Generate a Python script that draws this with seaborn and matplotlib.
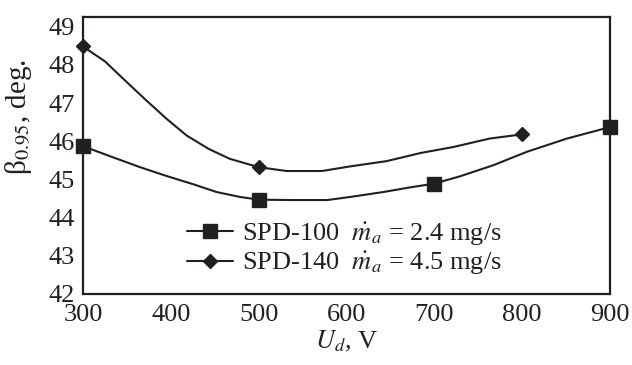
import matplotlib
matplotlib.use("Agg")
import matplotlib.pyplot as plt
from matplotlib.lines import Line2D
import seaborn as sns
import pandas as pd

# ---- data ----
# measured points (markers)
spd100_x = [300, 500, 700, 900]
spd100_y = [45.87, 44.47, 44.89, 46.37]
spd140_x = [300, 500, 800]
spd140_y = [48.48, 45.32, 46.18]

# traced smooth curves
spd100_cx = [300, 334, 365, 395, 426, 452, 479, 500, 536, 578, 604, 642, 672, 700, 729, 767, 805, 851, 900]
spd100_cy = [45.87, 45.58, 45.32, 45.09, 44.87, 44.67, 44.54, 44.47, 44.46, 44.46, 44.54, 44.67, 44.79, 44.89, 45.08, 45.37, 45.72, 46.07, 46.37]
spd140_cx = [300, 325, 346, 372, 395, 418, 443, 467, 500, 532, 572, 604, 646, 684, 722, 763, 800]
spd140_cy = [48.48, 48.09, 47.63, 47.07, 46.59, 46.15, 45.80, 45.54, 45.32, 45.22, 45.22, 45.34, 45.48, 45.69, 45.85, 46.07, 46.18]

labels = [r"SPD-100  $\dot{m}_a$ = 2.4 mg/s", r"SPD-140  $\dot{m}_a$ = 4.5 mg/s"]
xticks = [300, 400, 500, 600, 700, 800, 900]
yticks = [42, 43, 44, 45, 46, 47, 48, 49]

sns.set_theme(style="white")
plt.rcParams["font.family"] = ["Liberation Serif", "DejaVu Serif"]
plt.rcParams["mathtext.fontset"] = "stix"

FS = 19
C = "#231f20"

fig = plt.figure(figsize=(6.32, 3.65), dpi=100)
ax = fig.add_axes([83 / 632, 1 - 294 / 365, (610 - 83) / 632, (294 - 16.7) / 365])

c100 = pd.DataFrame({"x": spd100_cx, "y": spd100_cy})
c140 = pd.DataFrame({"x": spd140_cx, "y": spd140_cy})
sns.lineplot(data=c100, x="x", y="y", ax=ax, color=C, lw=1.5, sort=False, estimator=None)
sns.lineplot(data=c140, x="x", y="y", ax=ax, color=C, lw=1.5, sort=False, estimator=None)

ax.plot(spd100_x, spd100_y, ls="none", marker="s", ms=9.5, color=C, clip_on=False, zorder=5)
ax.plot(spd140_x, spd140_y, ls="none", marker="D", ms=7.2, color=C, clip_on=False, zorder=5)

ax.set_xlim(300, 900)
ax.set_ylim(42, 49.26)
ax.set_xticks(xticks)
ax.set_yticks(yticks)
ax.set_xticklabels([str(v) for v in xticks])
ax.set_yticklabels([str(v) for v in yticks])
ax.tick_params(direction="in", length=6.5, width=1.2, color=C, labelsize=FS,
               labelcolor=C, top=False, right=False)
ax.tick_params(axis="x", pad=7)
ax.tick_params(axis="y", pad=6)
ax.yaxis.get_major_ticks()[-1].tick1line.set_visible(False)
for s in ax.spines.values():
    s.set_linewidth(1.6)
    s.set_color(C)
    s.set_visible(True)

ax.set_xlabel(r"$U_d$, V", fontsize=FS, color=C, labelpad=2)
ax.set_ylabel(r"β$_{0.95}$, deg.", fontsize=21, color=C)
ax.yaxis.set_label_coords(-0.093, 0.64)

handles = [
    Line2D([0], [0], color=C, lw=1.5, marker="s", ms=9.5),
    Line2D([0], [0], color=C, lw=1.5, marker="D", ms=7.2),
]
leg = ax.legend(handles, labels, loc="center left", bbox_to_anchor=(187 / 632, 1 - 249 / 365),
                bbox_transform=fig.transFigure, frameon=False, fontsize=FS,
                handlelength=1.75, handletextpad=0.35, borderpad=0, labelspacing=0.1,
                borderaxespad=0)
for t in leg.get_texts():
    t.set_color(C)

fig.savefig("out.png", dpi=100)
